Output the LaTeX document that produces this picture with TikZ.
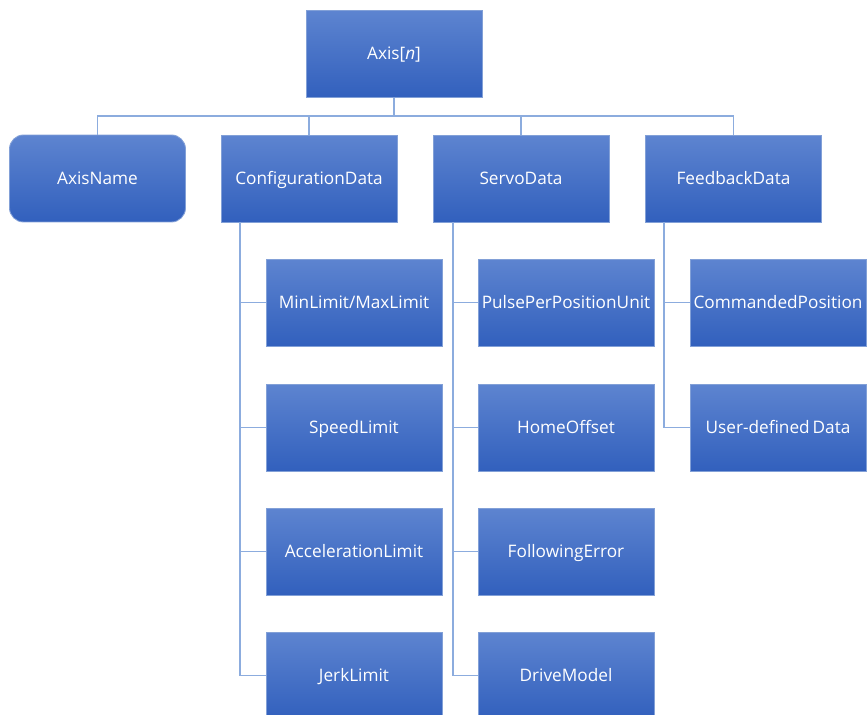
\documentclass[tikz,border=0pt]{standalone}
\usepackage{fontspec}
\setmainfont{Open Sans}
\usepackage{tikz}
\definecolor{boxtop}{RGB}{93,132,208}
\definecolor{boxbot}{RGB}{50,96,189}
\definecolor{boxrim}{RGB}{130,160,215}
\definecolor{linkblue}{RGB}{140,172,222}

\begin{document}
\begin{tikzpicture}[x=0.02cm, y=-0.02cm,
  box/.style={draw=boxrim, line width=0.5pt, top color=boxtop, bottom color=boxbot,
    minimum width=3.52cm, minimum height=1.74cm, inner sep=0pt, text=white,
    text height=1.6ex, text depth=0.4ex,
    font=\fontsize{9.8}{12}\selectfont},
  link/.style={draw=linkblue, line width=1.1pt}]%
\useasboundingbox (0, 0) rectangle (868, 715);%
\node[box] (axis) at (394, 54) {Axis[\textit{n}]};%
\node[box, rounded corners=8pt] (axisname) at (97.5, 178.5) {AxisName};%
\node[box] (config) at (309, 178.5) {ConfigurationData};%
\node[box] (servo) at (521, 178.5) {ServoData};%
\node[box] (feedback) at (733.5, 178.5) {FeedbackData};%
\node[box] (minmax) at (354, 302.5) {MinLimit/MaxLimit};%
\node[box] (speed) at (354, 427.5) {SpeedLimit};%
\node[box] (accel) at (354, 551.5) {AccelerationLimit};%
\node[box] (jerk) at (354, 675.5) {JerkLimit};%
\node[box] (pulse) at (566, 302.5) {PulsePerPositionUnit};%
\node[box] (home) at (566, 427.5) {HomeOffset};%
\node[box] (follow) at (566, 551.5) {FollowingError};%
\node[box] (drive) at (566, 675.5) {DriveModel};%
\node[box] (commanded) at (778, 302.5) {CommandedPosition};%
\node[box] (userdata) at (778, 427.5) {User-defined\,Data};%
\coordinate (bus) at (394, 116);%
\coordinate (cfgtrunk) at (240, 222);%
\coordinate (srvtrunk) at (453, 222);%
\coordinate (fbtrunk) at (664, 222);%
\draw[link] (axis.south) -- (bus);%
\draw[link] (bus) -| (axisname.north);%
\draw[link] (bus) -| (config.north);%
\draw[link] (bus) -| (servo.north);%
\draw[link] (bus) -| (feedback.north);%
\draw[link] (cfgtrunk) |- (jerk.west);%
\draw[link] (cfgtrunk |- minmax.west) -- (minmax.west);%
\draw[link] (cfgtrunk |- speed.west) -- (speed.west);%
\draw[link] (cfgtrunk |- accel.west) -- (accel.west);%
\draw[link] (srvtrunk) |- (drive.west);%
\draw[link] (srvtrunk |- pulse.west) -- (pulse.west);%
\draw[link] (srvtrunk |- home.west) -- (home.west);%
\draw[link] (srvtrunk |- follow.west) -- (follow.west);%
\draw[link] (fbtrunk) |- (userdata.west);%
\draw[link] (fbtrunk |- commanded.west) -- (commanded.west);%
\end{tikzpicture}
\end{document}
